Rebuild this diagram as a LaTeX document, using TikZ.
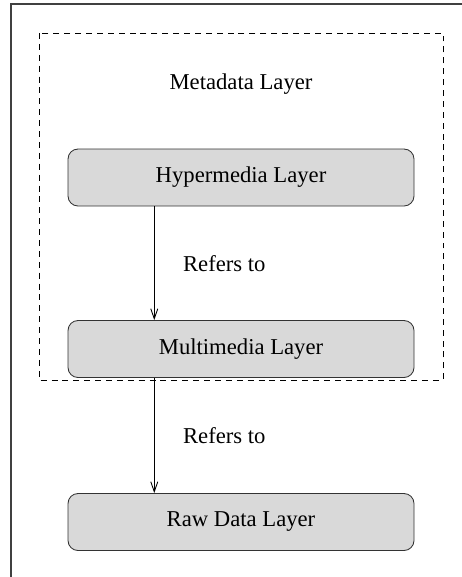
\documentclass[tikz,border=0pt]{standalone}
\usepackage{fontspec}
\setmainfont{Liberation Serif}
\usetikzlibrary{arrows.meta,calc}

\begin{document}
\begin{tikzpicture}[
    layer/.style={rectangle, draw=black!80, fill=black!15, rounded corners=0.2cm, align=center, minimum width=6.92cm, minimum height=1.14cm, line width=0.5pt},
    group/.style={draw, dash pattern=on 3.4pt off 2.8pt, line width=0.5pt},
    arrow/.style={-{Straight Barb[length=2mm,width=1.4mm]}, line width=0.5pt},
    font=\fontsize{12.9}{15}\selectfont
]
\useasboundingbox (0,0) rectangle (9.24,-11.54);
\draw[black!75, line width=0.6pt] (0.22,-11.54) -- (0.22,-0.08) -- (9.24,-0.08);

\coordinate (metatl) at (0.78,-0.66);
\coordinate (metabr) at (8.86,-7.60);
\draw[group] (metatl) rectangle (metabr);
\node (metalabel) at (4.82,-1.68) {Metadata Layer};

\node[layer] (hyper) at (4.82,-3.55) {Hypermedia Layer};
\node[layer] (multi) at (4.82,-6.98) {Multimedia Layer};
\node[layer] (raw) at (4.82,-10.44) {Raw Data Layer};

\draw[arrow] ($(hyper.south west)!0.25!(hyper.south east)$) -- ($(multi.north west)!0.25!(multi.north east)$)
    node[midway, right=0.45cm] {Refers to};
\draw[arrow] ($(multi.south west)!0.25!(multi.south east)$) -- ($(raw.north west)!0.25!(raw.north east)$)
    node[midway, right=0.45cm] {Refers to};
\end{tikzpicture}
\end{document}
